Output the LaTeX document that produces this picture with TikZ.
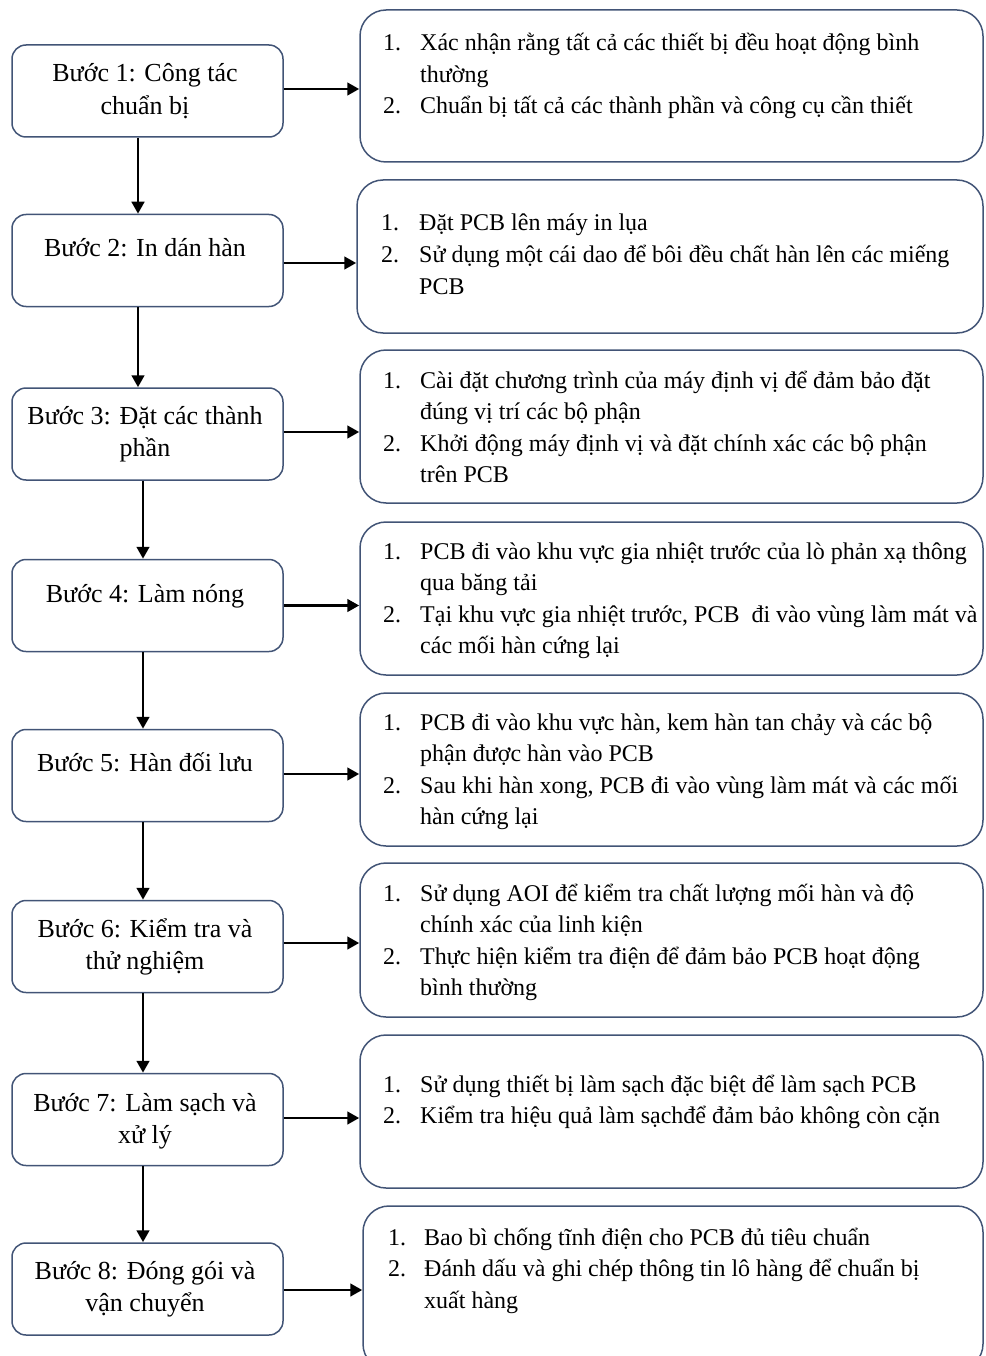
\documentclass[tikz,border=0pt]{standalone}
\usepackage{fontspec}
\setmainfont{Liberation Serif}
\usetikzlibrary{arrows.meta}
\definecolor{boxline}{RGB}{66,84,118}
\tikzset{
 stepbox/.style={draw=boxline, line width=1.5pt, rounded corners=14pt, minimum width=271pt, minimum height=92pt, inner sep=0pt},
 detailbox/.style={draw=boxline, line width=1.5pt, rounded corners=26pt, inner sep=0pt},
 steptext/.style={anchor=base, inner sep=0pt, font=\fontsize{26}{32.5}\selectfont},
 detailtext/.style={anchor=base west, inner sep=0pt, font=\fontsize{24}{31.5}\selectfont},
 flow/.style={line width=2.9pt, -{Triangle[length=12pt,width=12.5pt]}},
}
\newcommand{\numA}[1]{\makebox[37pt][l]{#1}}
\begin{document}
\begin{tikzpicture}[x=1pt,y=-1pt]
\useasboundingbox (0,0) rectangle (985,1356);
% left step boxes
\node[stepbox] (b1) at (147.5,91) {};
\node[stepbox] (b2) at (147.5,260.5) {};
\node[stepbox] (b3) at (147.5,434) {};
\node[stepbox] (b4) at (147.5,605.5) {};
\node[stepbox] (b5) at (147.5,775.5) {};
\node[stepbox] (b6) at (147.5,946.5) {};
\node[stepbox] (b7) at (147.5,1119.5) {};
\node[stepbox] (b8) at (147.5,1289) {};
% step texts
\node[steptext] (t1) at (145,82) {\begin{tabular}[t]{@{}c@{}}Bước 1: Công tác\\ chuẩn bị\end{tabular}};
\node[steptext] (t2) at (145,257) {\begin{tabular}[t]{@{}c@{}}Bước 2: In dán hàn\end{tabular}};
\node[steptext] (t3) at (145,424) {\begin{tabular}[t]{@{}c@{}}Bước 3: Đặt các thành\\ phần\end{tabular}};
\node[steptext] (t4) at (145,602) {\begin{tabular}[t]{@{}c@{}}Bước 4: Làm nóng\end{tabular}};
\node[steptext] (t5) at (145,771) {\begin{tabular}[t]{@{}c@{}}Bước 5: Hàn đối lưu\end{tabular}};
\node[steptext] (t6) at (145,937) {\begin{tabular}[t]{@{}c@{}}Bước 6: Kiểm tra và\\ thử nghiệm\end{tabular}};
\node[steptext] (t7) at (145,1111) {\begin{tabular}[t]{@{}c@{}}Bước 7: Làm sạch và\\ xử lý\end{tabular}};
\node[steptext] (t8) at (145,1279) {\begin{tabular}[t]{@{}c@{}}Bước 8: Đóng gói và\\ vận chuyển\end{tabular}};
% right detail boxes
\node[detailbox, minimum width=623pt, minimum height=152pt] (r1) at (671.5,86) {};
\node[detailbox, minimum width=626pt, minimum height=153pt] (r2) at (670,256.5) {};
\node[detailbox, minimum width=623pt, minimum height=153pt] (r3) at (671.5,426.5) {};
\node[detailbox, minimum width=623pt, minimum height=153pt] (r4) at (671.5,598.5) {};
\node[detailbox, minimum width=623pt, minimum height=153pt] (r5) at (671.5,769.5) {};
\node[detailbox, minimum width=623pt, minimum height=154pt] (r6) at (671.5,940) {};
\node[detailbox, minimum width=623pt, minimum height=153pt] (r7) at (671.5,1111.5) {};
\node[detailbox, minimum width=620pt, minimum height=164pt] (r8) at (673,1288) {};
% detail texts
\node[detailtext] (d1) at (383,51) {\begin{tabular}[t]{@{}l@{}l@{}}\numA{1.}&Xác nhận rằng tất cả các thiết bị đều hoạt động bình\\ &thường\\ \numA{2.}&Chuẩn bị tất cả các thành phần và công cụ cần thiết\end{tabular}};
\node[detailtext] (d2) at (381,231) {\begin{tabular}[t]{@{}l@{}l@{}}\makebox[38pt][l]{1.}&Đặt PCB lên máy in lụa\\ \makebox[38pt][l]{2.}&Sử dụng một cái dao để bôi đều chất hàn lên các miếng\\ &PCB\end{tabular}};
\node[detailtext] (d3) at (383,388) {\begin{tabular}[t]{@{}l@{}l@{}}\numA{1.}&Cài đặt chương trình của máy định vị để đảm bảo đặt\\ &đúng vị trí các bộ phận\\ \numA{2.}&Khởi động máy định vị và đặt chính xác các bộ phận\\ &trên PCB\end{tabular}};
\node[detailtext] (d4) at (383,559) {\begin{tabular}[t]{@{}l@{}l@{}}\numA{1.}&PCB đi vào khu vực gia nhiệt trước của lò phản xạ thông\\ &qua băng tải\\ \numA{2.}&Tại khu vực gia nhiệt trước, PCB \ đi vào vùng làm mát và\\ &các mối hàn cứng lại\end{tabular}};
\node[detailtext] (d5) at (383,730) {\begin{tabular}[t]{@{}l@{}l@{}}\numA{1.}&PCB đi vào khu vực hàn, kem hàn tan chảy và các bộ\\ &phận được hàn vào PCB\\ \numA{2.}&Sau khi hàn xong, PCB đi vào vùng làm mát và các mối\\ &hàn cứng lại\end{tabular}};
\node[detailtext] (d6) at (383,901) {\begin{tabular}[t]{@{}l@{}l@{}}\numA{1.}&Sử dụng AOI để kiểm tra chất lượng mối hàn và độ\\ &chính xác của linh kiện\\ \numA{2.}&Thực hiện kiểm tra điện để đảm bảo PCB hoạt động\\ &bình thường\end{tabular}};
\node[detailtext] (d7) at (383,1092) {\begin{tabular}[t]{@{}l@{}l@{}}\numA{1.}&Sử dụng thiết bị làm sạch đặc biệt để làm sạch PCB\\ \numA{2.}&Kiểm tra hiệu quả làm sạchđể đảm bảo không còn cặn\end{tabular}};
\node[detailtext] (d8) at (388,1245) {\begin{tabular}[t]{@{}l@{}l@{}}\makebox[36pt][l]{1.}&Bao bì chống tĩnh điện cho PCB đủ tiêu chuẩn\\ \makebox[36pt][l]{2.}&Đánh dấu và ghi chép thông tin lô hàng để chuẩn bị\\ &xuất hàng\end{tabular}};
% vertical flow arrows
\draw[flow] ([xshift=-9.5pt]b1.south) -- ([xshift=-9.5pt]b2.north);
\draw[flow] ([xshift=-9.5pt]b2.south) -- ([xshift=-9.5pt]b3.north);
\draw[flow] ([xshift=-4.5pt]b3.south) -- ([xshift=-4.5pt]b4.north);
\draw[flow] ([xshift=-4.5pt]b4.south) -- ([xshift=-4.5pt]b5.north);
\draw[flow] ([xshift=-4.5pt]b5.south) -- ([xshift=-4.5pt]b6.north);
\draw[flow] ([xshift=-4.5pt]b6.south) -- ([xshift=-4.5pt]b7.north);
\draw[flow] ([xshift=-4.5pt]b7.south) -- ([xshift=-4.5pt]b8.north);
% horizontal arrows
\draw[flow] ([yshift=2pt]b1.east) -- ([yshift=2pt]b1.east -| r1.west);
\draw[flow] ([yshift=-2.5pt]b2.east) -- ([yshift=-2.5pt]b2.east -| r2.west);
\draw[flow] ([yshift=2pt]b3.east) -- ([yshift=2pt]b3.east -| r3.west);
\draw[flow] (b4.east) -- (b4.east -| r4.west);
\draw[flow] ([yshift=1.5pt]b5.east) -- ([yshift=1.5pt]b5.east -| r5.west);
\draw[flow] ([yshift=3.5pt]b6.east) -- ([yshift=3.5pt]b6.east -| r6.west);
\draw[flow] ([yshift=1.5pt]b7.east) -- ([yshift=1.5pt]b7.east -| r7.west);
\draw[flow] ([yshift=-1pt]b8.east) -- ([yshift=-1pt]b8.east -| r8.west);
\end{tikzpicture}
\end{document}
